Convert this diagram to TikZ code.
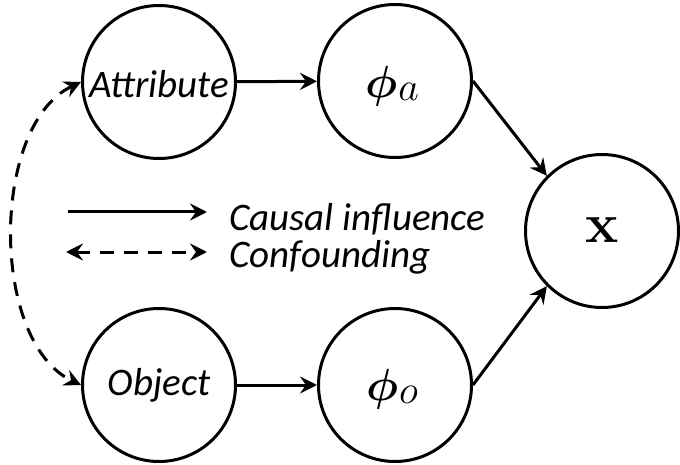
\RequirePackage{fix-cm}
\documentclass[tikz,border=0pt]{standalone}
\usepackage[no-math]{fontspec}
\setmainfont{Carlito}
\usetikzlibrary{arrows.meta}
\newcommand{\philab}[1]{{\fontsize{45}{54}\selectfont\boldmath$\phi$}\kern1pt\raisebox{-3pt}{\fontsize{40}{46}\selectfont$#1$}}
\begin{document}
\begin{tikzpicture}[x=1pt,y=-1pt,
  var/.style={circle,draw,line width=3pt,minimum size=153pt,inner sep=0pt},
  lbl/.style={font=\fontsize{39}{46}\selectfont\itshape},
  mth/.style={inner sep=0pt},
  edge/.style={line width=3pt,-{Stealth[length=17pt,width=17pt,inset=6pt]}},
  conf/.style={line width=3pt,dash pattern=on 14pt off 10pt,{Stealth[length=17pt,width=17pt,inset=6pt]}-{Stealth[length=17pt,width=17pt,inset=6pt]}}]
\useasboundingbox (0,0) rectangle (680,465);
\node[var] (attr) at (159,82) {};
\node[lbl] (attrtxt) at (159,84) {Attribute};
\node[var] (pa) at (395,81) {};
\node[mth] (patxt) at (392,86) {\philab{a}};
\node[var] (obj) at (159,385) {};
\node[lbl] (objtxt) at (159,385) {Object};
\node[var] (po) at (395,385) {};
\node[mth] (potxt) at (392,389) {\philab{o}};
\node[var] (x) at (602,231) {};
\node[font=\fontsize{56}{64}\selectfont] (xtxt) at (602,230) {$\mathbf{x}$};
\draw[edge] (attr) -- (pa);
\draw[edge] (obj) -- (po);
\draw[edge] (pa.east) -- (x.135);
\draw[edge] (po.east) -- (x.225);
\draw[conf] (attr.west) .. controls (-10,125) and (-10,342) .. (obj.west);
\coordinate (l1a) at (68,212);
\coordinate (l1b) at (207,212);
\coordinate (l2a) at (66,252);
\coordinate (l2b) at (207,252);
\draw[edge] (l1a) -- (l1b);
\draw[conf] (l2a) -- (l2b);
\node[lbl,anchor=base west,inner sep=0pt] (causal) at (229,230) {Causal influence};
\node[lbl,anchor=base west,inner sep=0pt] (confd) at (229,267) {Confounding};
\end{tikzpicture}
\end{document}
